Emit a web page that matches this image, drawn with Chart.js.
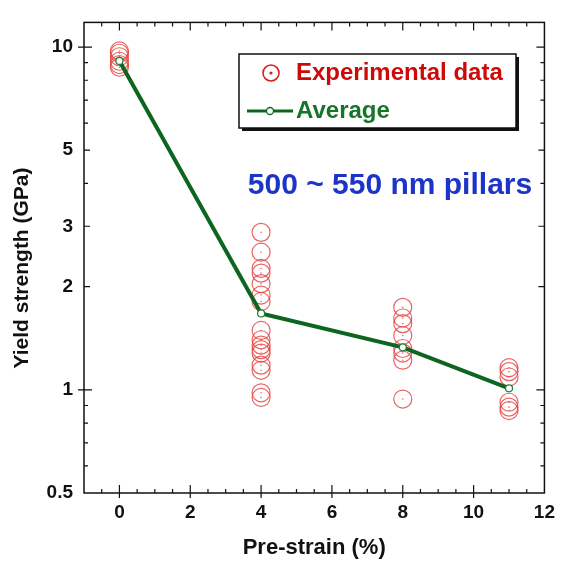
<!DOCTYPE html>
<html>
<head>
<meta charset="utf-8">
<script src="https://cdn.jsdelivr.net/npm/chart.js@4"></script>
<style>
  html, body { margin: 0; padding: 0; background: #fff; }
</style>
</head>
<body>
<canvas id="chart" width="563" height="564"></canvas>
<script>
// Pre-strain levels (%) where pillars were compressed
const strainLevels = [0, 4, 8, 11];

// Yield strength (GPa) of each pillar
const yieldAt0 = [9.74, 9.59, 9.37, 9.09, 8.89, 8.73];
const yieldAt4 = [2.88, 2.52, 2.26, 2.19, 2.04, 1.89, 1.81, 1.49, 1.40, 1.35, 1.31, 1.28, 1.18, 1.14, 0.98, 0.95];
const yieldAt8 = [1.74, 1.62, 1.56, 1.44, 1.32, 1.28, 1.22, 0.94];
const yieldAt11 = [1.16, 1.13, 1.09, 0.92, 0.89, 0.87];

// Average per pre-strain level
const averageYield = [9.11, 1.67, 1.33, 1.01];

// Axis tick labels
const xTickLabels = [0, 2, 4, 6, 8, 10, 12];
const yTickLabels = [0.5, 1, 2, 3, 5, 10];
const yMinorTicks = [0.6, 0.7, 0.8, 0.9, 4, 6, 7, 8, 9];

const FONT = "'Liberation Sans', Arial, Helvetica, sans-serif";
const RED = 'rgba(228, 62, 62, 0.8)';
const GREEN = '#0c6620';

const groups = [yieldAt0, yieldAt4, yieldAt8, yieldAt11];
const expPoints = groups.flatMap((g, i) => g.map(v => ({ x: strainLevels[i], y: v })));
const avgPoints = averageYield.map((v, i) => ({ x: strainLevels[i], y: v }));

// frame, inside ticks, legend box, label text
const decorPlugin = {
    id: 'decor',
    beforeDatasetsDraw(chart) {
        const { ctx, chartArea: a, scales } = chart;
        const xs = scales.x, ys = scales.y;
        ctx.save();
        ctx.strokeStyle = '#111';
        ctx.lineWidth = 1.5;
        ctx.strokeRect(a.left, a.top, a.right - a.left, a.bottom - a.top);

        ctx.lineWidth = 1.2;
        ctx.beginPath();
        // x ticks, top and bottom
        for (let v = -0.5; v < 12; v += 0.5) {
            const px = xs.getPixelForValue(v);
            const major = xTickLabels.includes(v);
            const len = major ? 8 : 4;
            ctx.moveTo(px, a.bottom + (major ? 5 : 0));
            ctx.lineTo(px, a.bottom - len);
            ctx.moveTo(px, a.top);
            ctx.lineTo(px, a.top + len);
        }
        // y ticks, left and right
        yTickLabels.concat(yMinorTicks).forEach(v => {
            if (v <= 0.5) return;
            const py = ys.getPixelForValue(v);
            const decade = v === 1 || v === 10;
            const len = decade ? 8 : (yTickLabels.includes(v) ? 6 : 4);
            ctx.moveTo(a.left - (decade ? 6 : 0), py);
            ctx.lineTo(a.left + len, py);
            ctx.moveTo(a.right, py);
            ctx.lineTo(a.right - len, py);
        });
        ctx.stroke();
        ctx.restore();
    },
    afterDraw(chart) {
        const ctx = chart.ctx;
        ctx.save();

        // y axis title
        ctx.fillStyle = '#111';
        ctx.font = 'bold 21px ' + FONT;
        ctx.textAlign = 'center';
        ctx.textBaseline = 'middle';
        ctx.translate(22, 268);
        ctx.rotate(-Math.PI / 2);
        ctx.fillText('Yield strength (GPa)', 0, 0);
        ctx.setTransform(1, 0, 0, 1, 0, 0);

        // legend box with shadow
        const bx = 239, by = 54, bw = 277, bh = 74;
        ctx.fillStyle = '#111';
        ctx.fillRect(bx + 3, by + 3, bw, bh);
        ctx.fillStyle = '#fff';
        ctx.fillRect(bx, by, bw, bh);
        ctx.strokeStyle = '#111';
        ctx.lineWidth = 1.5;
        ctx.strokeRect(bx, by, bw, bh);

        // experimental data entry
        ctx.strokeStyle = '#d42020';
        ctx.lineWidth = 1.6;
        ctx.beginPath();
        ctx.arc(271, 73, 8, 0, Math.PI * 2);
        ctx.stroke();
        ctx.fillStyle = '#d42020';
        ctx.beginPath();
        ctx.arc(271, 73, 1.6, 0, Math.PI * 2);
        ctx.fill();
        ctx.font = 'bold 24px ' + FONT;
        ctx.textAlign = 'left';
        ctx.textBaseline = 'middle';
        ctx.fillStyle = '#cc0a0a';
        ctx.fillText('Experimental data', 296, 73);

        // average entry
        ctx.strokeStyle = GREEN;
        ctx.lineWidth = 3;
        ctx.beginPath();
        ctx.moveTo(247, 111);
        ctx.lineTo(293, 111);
        ctx.stroke();
        ctx.fillStyle = '#fff';
        ctx.lineWidth = 1.3;
        ctx.beginPath();
        ctx.arc(270, 111, 3.5, 0, Math.PI * 2);
        ctx.fill();
        ctx.stroke();
        ctx.fillStyle = '#17752a';
        ctx.fillText('Average', 296, 111);

        // sample note
        ctx.font = 'bold 30px ' + FONT;
        ctx.textAlign = 'center';
        ctx.fillStyle = '#1c34c8';
        ctx.fillText('500 ~ 550 nm pillars', 390, 186);
        ctx.restore();
    }
};

new Chart(document.getElementById('chart'), {
    type: 'scatter',
    data: {
        datasets: [
            {
                label: 'Average',
                data: avgPoints,
                showLine: true,
                borderColor: GREEN,
                borderWidth: 4,
                pointRadius: 3.5,
                pointBackgroundColor: '#fff',
                pointBorderColor: '#1f7a35',
                pointBorderWidth: 1.2,
                order: 0
            },
            {
                label: 'Experimental data',
                data: expPoints,
                pointRadius: 9,
                pointBorderColor: RED,
                pointBackgroundColor: 'rgba(0,0,0,0)',
                pointBorderWidth: 1.2,
                order: 1
            },
            {
                label: 'centre dots',
                data: expPoints,
                pointRadius: 0.8,
                pointBackgroundColor: RED,
                pointBorderWidth: 0,
                order: 2
            }
        ]
    },
    options: {
        responsive: false,
        animation: false,
        layout: { padding: { top: 20, right: 17, left: 0, bottom: 0 } },
        plugins: {
            legend: { display: false },
            tooltip: { enabled: false }
        },
        scales: {
            x: {
                type: 'linear',
                min: -1,
                max: 12,
                grid: { display: false, drawTicks: false },
                border: { display: false },
                afterBuildTicks: s => { s.ticks = xTickLabels.map(v => ({ value: v })); },
                afterFit: s => { s.height = 71; },
                ticks: {
                    font: { family: FONT, size: 19, weight: 'bold' },
                    color: '#111',
                    padding: 8,
                    maxRotation: 0,
                    autoSkip: false
                },
                title: {
                    display: true,
                    text: 'Pre-strain (%)',
                    font: { family: FONT, size: 22, weight: 'bold' },
                    color: '#111',
                    padding: { top: 0, bottom: 3 }
                }
            },
            y: {
                type: 'logarithmic',
                min: 0.5,
                max: 11.8,
                grid: { display: false, drawTicks: false },
                border: { display: false },
                afterBuildTicks: s => { s.ticks = yTickLabels.map(v => ({ value: v })); },
                afterFit: s => { s.width = 84; },
                ticks: {
                    font: { family: FONT, size: 19, weight: 'bold' },
                    color: '#111',
                    padding: 11,
                    autoSkip: false,
                    callback: v => String(v)
                }
            }
        }
    },
    plugins: [decorPlugin]
});
</script>
</body>
</html>
